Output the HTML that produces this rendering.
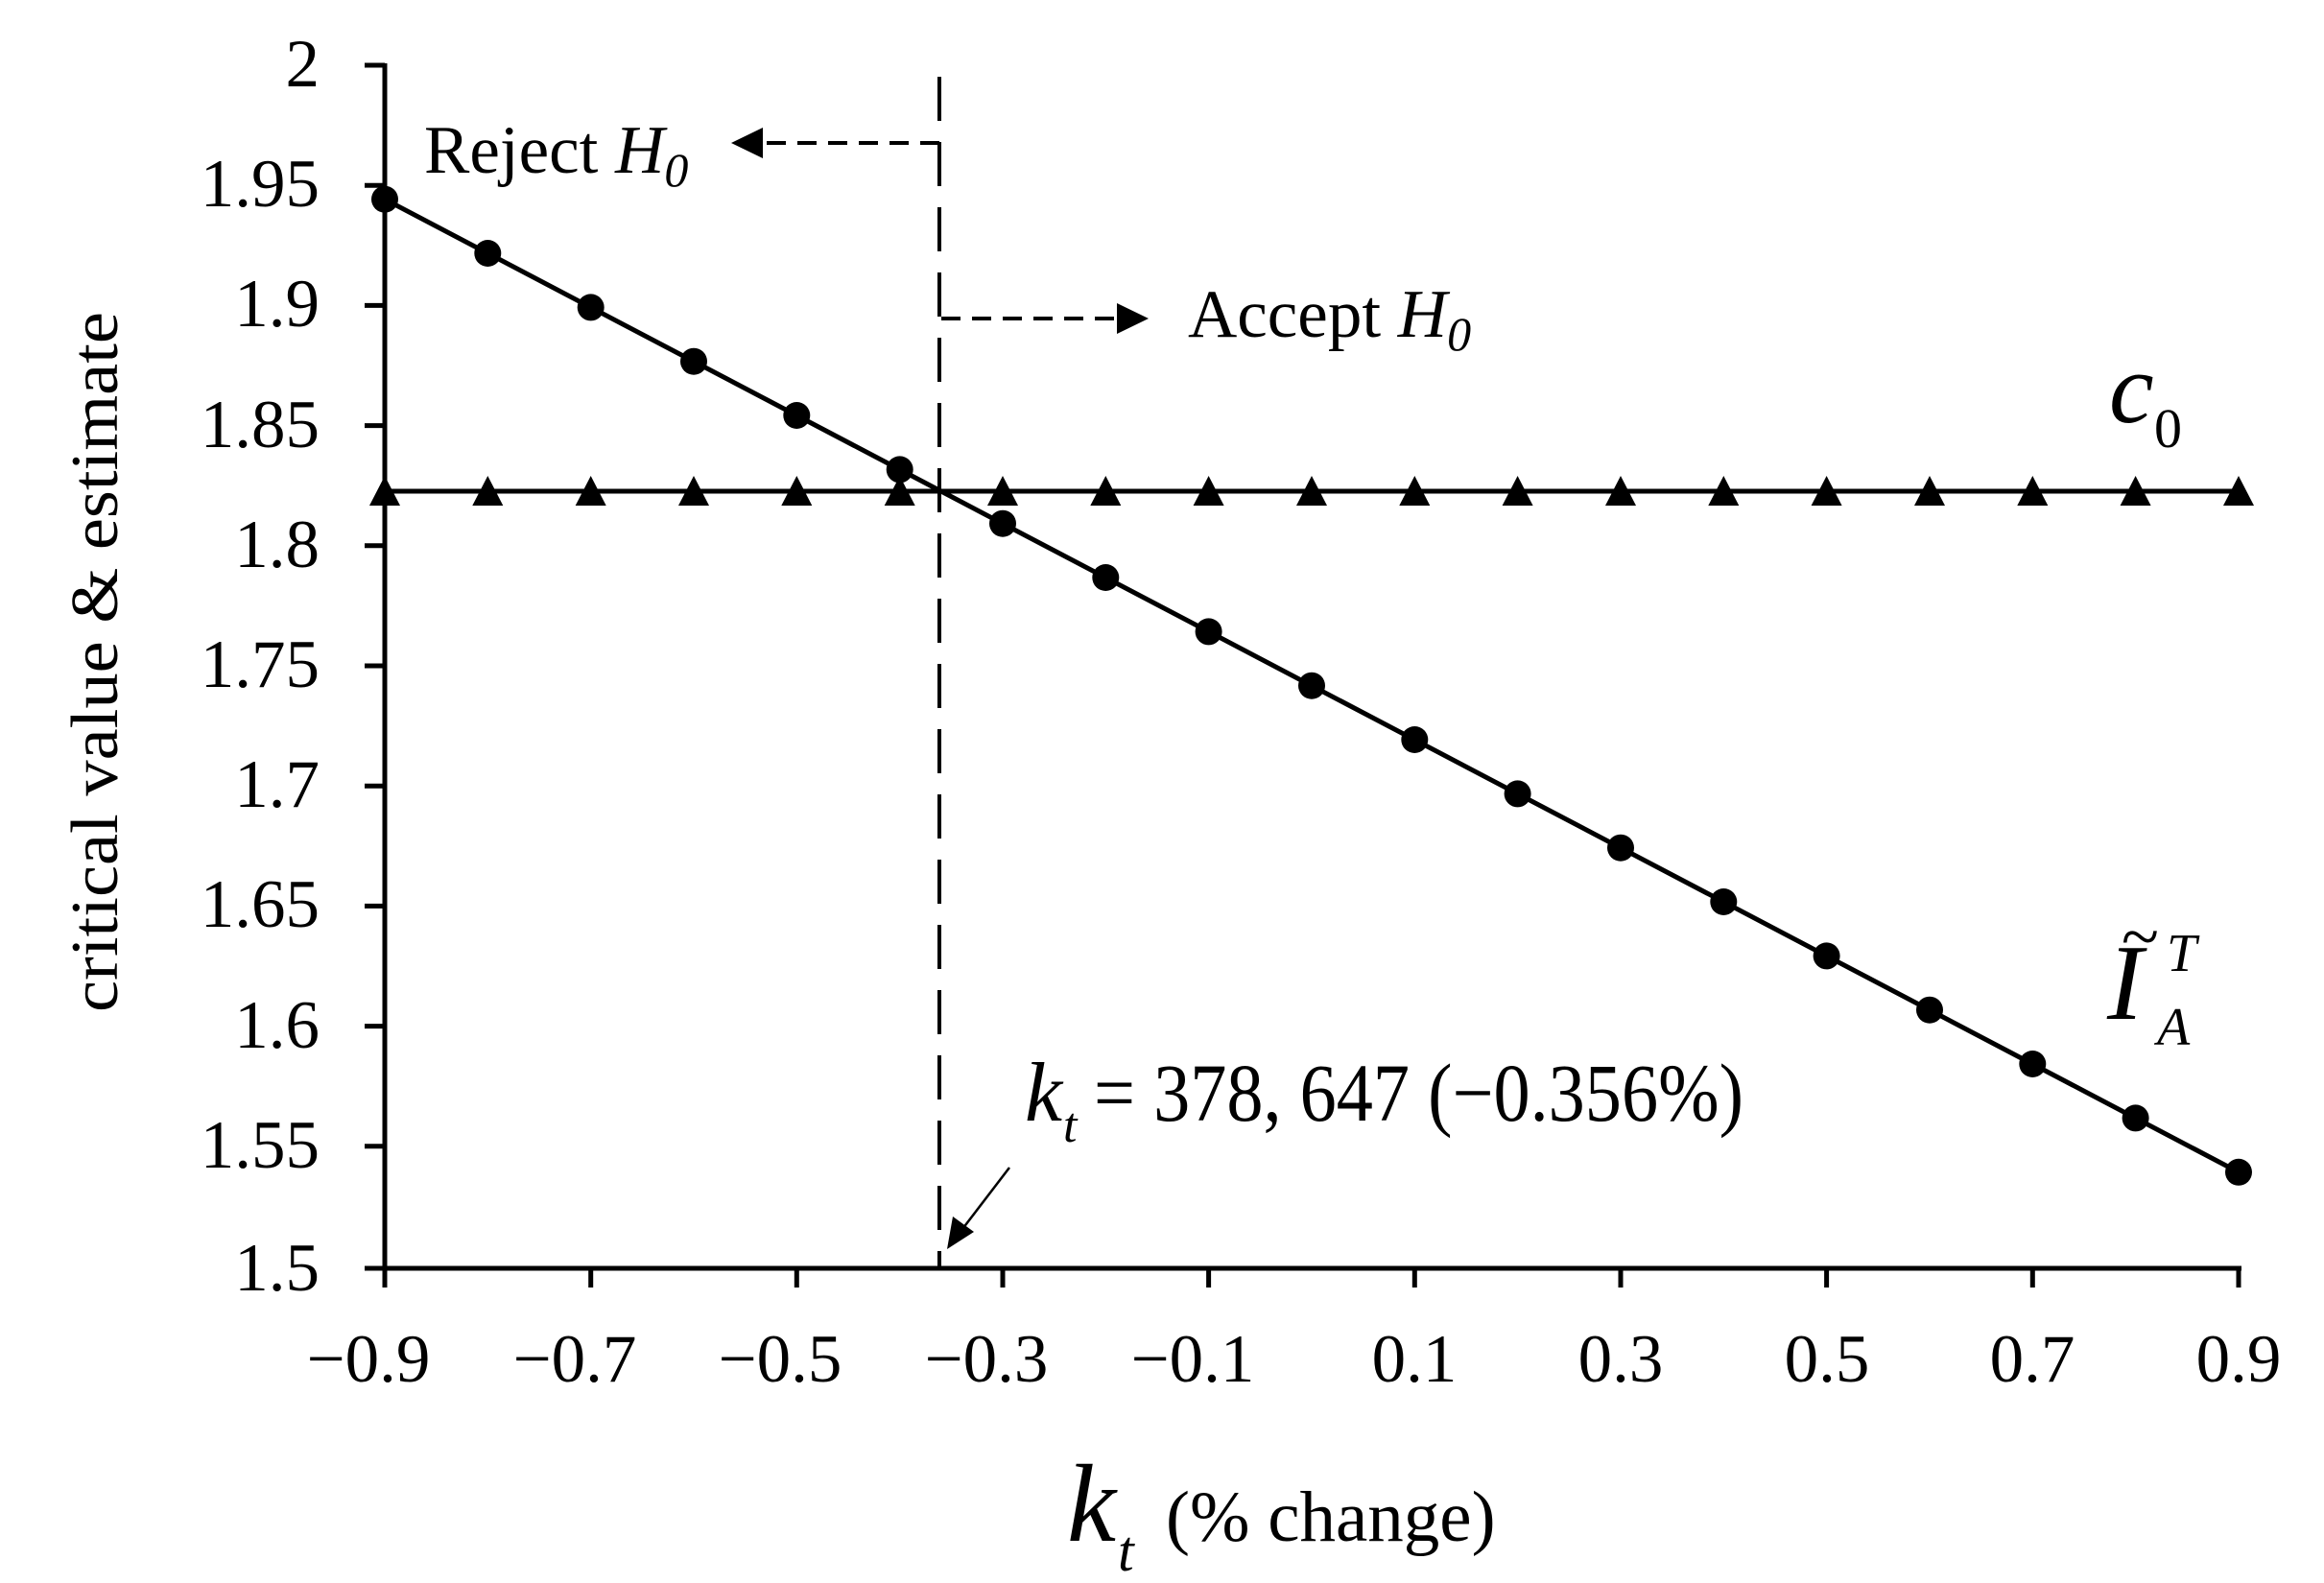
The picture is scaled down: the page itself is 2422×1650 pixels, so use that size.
<!DOCTYPE html>
<html><head><meta charset="utf-8"><style>
html,body{margin:0;padding:0;background:#fff;}
svg{display:block;}
text{font-family:"Liberation Serif",serif;fill:#000;}
</style></head><body>
<svg width="2422" height="1650" viewBox="0 0 2422 1650" xmlns="http://www.w3.org/2000/svg">
<g stroke="#000" stroke-width="5" fill="none">
<line x1="401" y1="66" x2="401" y2="1342"/>
<line x1="380" y1="1322" x2="2336" y2="1322"/>
<line x1="380" y1="68" x2="401" y2="68"/>
<line x1="380" y1="193.2" x2="401" y2="193.2"/>
<line x1="380" y1="318.4" x2="401" y2="318.4"/>
<line x1="380" y1="443.6" x2="401" y2="443.6"/>
<line x1="380" y1="568.8" x2="401" y2="568.8"/>
<line x1="380" y1="694" x2="401" y2="694"/>
<line x1="380" y1="819.2" x2="401" y2="819.2"/>
<line x1="380" y1="944.4" x2="401" y2="944.4"/>
<line x1="380" y1="1069.6" x2="401" y2="1069.6"/>
<line x1="380" y1="1194.8" x2="401" y2="1194.8"/>
<line x1="380" y1="1322" x2="401" y2="1322"/>
<line x1="615.7" y1="1322" x2="615.7" y2="1342"/>
<line x1="830.3" y1="1322" x2="830.3" y2="1342"/>
<line x1="1045" y1="1322" x2="1045" y2="1342"/>
<line x1="1259.6" y1="1322" x2="1259.6" y2="1342"/>
<line x1="1474.3" y1="1322" x2="1474.3" y2="1342"/>
<line x1="1689" y1="1322" x2="1689" y2="1342"/>
<line x1="1903.6" y1="1322" x2="1903.6" y2="1342"/>
<line x1="2118.3" y1="1322" x2="2118.3" y2="1342"/>
<line x1="2333" y1="1322" x2="2333" y2="1342"/>
</g>
<g font-size="71" text-anchor="end">
<text x="333" y="90">2</text>
<text x="333" y="215">1.95</text>
<text x="333" y="340">1.9</text>
<text x="333" y="466">1.85</text>
<text x="333" y="591">1.8</text>
<text x="333" y="716">1.75</text>
<text x="333" y="841">1.7</text>
<text x="333" y="966">1.65</text>
<text x="333" y="1092">1.6</text>
<text x="333" y="1217">1.55</text>
<text x="333" y="1345">1.5</text>
</g>
<g font-size="71" text-anchor="middle">
<text x="384" y="1440">−0.9</text>
<text x="599" y="1440">−0.7</text>
<text x="813" y="1440">−0.5</text>
<text x="1028" y="1440">−0.3</text>
<text x="1243" y="1440">−0.1</text>
<text x="1474" y="1440">0.1</text>
<text x="1689" y="1440">0.3</text>
<text x="1904" y="1440">0.5</text>
<text x="2118" y="1440">0.7</text>
<text x="2333" y="1440">0.9</text>
</g>
<text transform="translate(122,690) rotate(-90)" font-size="70" text-anchor="middle" textLength="730" lengthAdjust="spacingAndGlyphs">critical value &amp; estimate</text>
<text x="1112" y="1606" font-size="115" font-style="italic">k</text>
<text x="1165" y="1637" font-size="60" font-style="italic">t</text>
<text x="1215" y="1606" font-size="75">(% change)</text>
<line x1="401" y1="512" x2="2336" y2="512" stroke="#000" stroke-width="5"/>
<g fill="#000">
<path d="M401 496 L417 527 L385 527Z"/><path d="M508.3 496 L524.3 527 L492.3 527Z"/><path d="M615.7 496 L631.7 527 L599.7 527Z"/><path d="M723 496 L739 527 L707 527Z"/><path d="M830.3 496 L846.3 527 L814.3 527Z"/><path d="M937.7 496 L953.7 527 L921.7 527Z"/><path d="M1045 496 L1061 527 L1029 527Z"/><path d="M1152.3 496 L1168.3 527 L1136.3 527Z"/><path d="M1259.6 496 L1275.6 527 L1243.6 527Z"/><path d="M1367 496 L1383 527 L1351 527Z"/><path d="M1474.3 496 L1490.3 527 L1458.3 527Z"/><path d="M1581.6 496 L1597.6 527 L1565.6 527Z"/><path d="M1689 496 L1705 527 L1673 527Z"/><path d="M1796.3 496 L1812.3 527 L1780.3 527Z"/><path d="M1903.6 496 L1919.6 527 L1887.6 527Z"/><path d="M2011 496 L2027 527 L1995 527Z"/><path d="M2118.3 496 L2134.3 527 L2102.3 527Z"/><path d="M2225.6 496 L2241.6 527 L2209.6 527Z"/><path d="M2333 496 L2349 527 L2317 527Z"/>
</g>
<line x1="401" y1="207.7" x2="2333" y2="1221.8" stroke="#000" stroke-width="5"/>
<g fill="#000">
<circle cx="401" cy="207.7" r="14"/><circle cx="508.3" cy="264" r="14"/><circle cx="615.7" cy="320.4" r="14"/><circle cx="723" cy="376.7" r="14"/><circle cx="830.3" cy="433" r="14"/><circle cx="937.7" cy="489.4" r="14"/><circle cx="1045" cy="545.7" r="14"/><circle cx="1152.3" cy="602" r="14"/><circle cx="1259.6" cy="658.4" r="14"/><circle cx="1367" cy="714.7" r="14"/><circle cx="1474.3" cy="771" r="14"/><circle cx="1581.6" cy="827.4" r="14"/><circle cx="1689" cy="883.7" r="14"/><circle cx="1796.3" cy="940" r="14"/><circle cx="1903.6" cy="996.4" r="14"/><circle cx="2011" cy="1052.7" r="14"/><circle cx="2118.3" cy="1109" r="14"/><circle cx="2225.6" cy="1165.4" r="14"/><circle cx="2333" cy="1221.8" r="14"/>
</g>
<line x1="979" y1="80" x2="979" y2="1322" stroke="#000" stroke-width="4" stroke-dasharray="46 22"/>
<line x1="979" y1="149" x2="790" y2="149" stroke="#000" stroke-width="4" stroke-dasharray="20 12"/>
<path d="M762 149 L795 133 L795 165Z" fill="#000"/>
<text x="442" y="180" font-size="71">Reject <tspan font-style="italic">H</tspan><tspan font-style="italic" font-size="50" dy="14">0</tspan></text>
<line x1="981" y1="332" x2="1170" y2="332" stroke="#000" stroke-width="4" stroke-dasharray="20 12"/>
<path d="M1197 332 L1164 316 L1164 348Z" fill="#000"/>
<text x="1238" y="351" font-size="71">Accept <tspan font-style="italic">H</tspan><tspan font-style="italic" font-size="50" dy="14">0</tspan></text>
<text x="2198" y="440" font-size="105" font-style="italic">c</text>
<text x="2245" y="466" font-size="58">0</text>
<text x="2196" y="1062" font-size="112" font-style="italic">I</text>
<text x="2210" y="1000" font-size="72" font-style="italic">~</text>
<text x="2258" y="1012" font-size="56" font-style="italic">T</text>
<text x="2248" y="1089" font-size="56" font-style="italic">A</text>
<text x="1068" y="1168" font-size="88" font-style="italic">k</text>
<text x="1108" y="1190" font-size="52" font-style="italic">t</text>
<text x="1140" y="1168" font-size="86" textLength="677" lengthAdjust="spacingAndGlyphs">= 378, 647 (−0.356%)</text>
<line x1="1052" y1="1217" x2="1000" y2="1285" stroke="#000" stroke-width="2.5"/>
<path d="M987 1302 L993 1268 L1015 1284Z" fill="#000"/>
</svg>
</body></html>
